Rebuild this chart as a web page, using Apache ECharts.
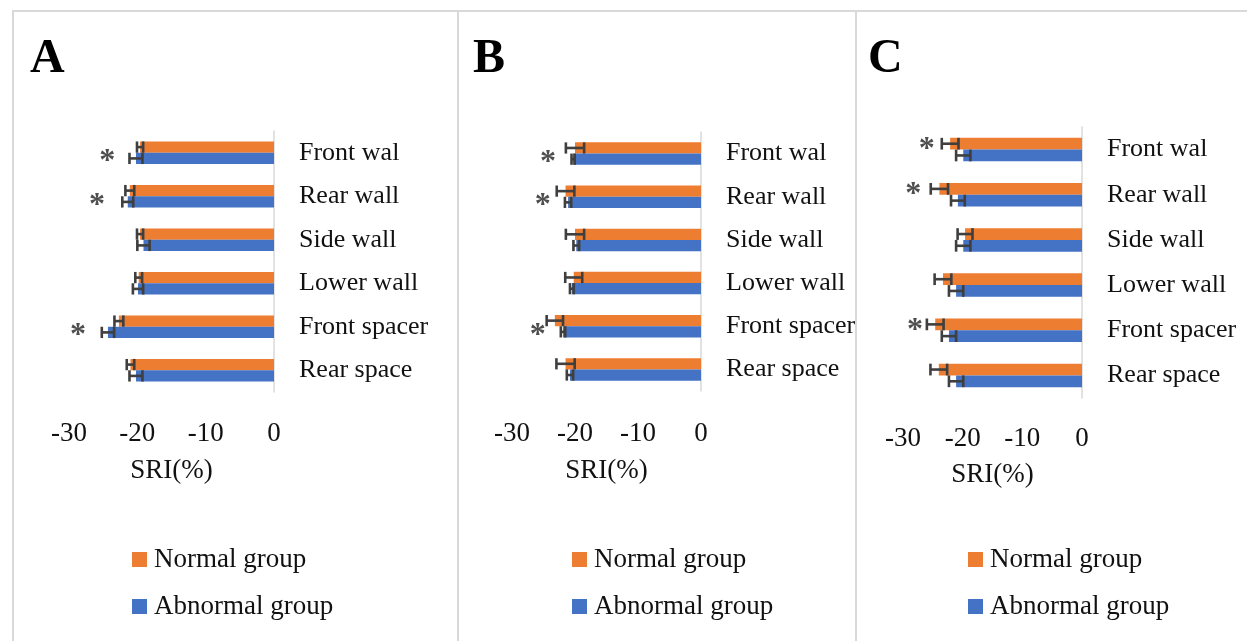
<!DOCTYPE html>
<html><head><meta charset="utf-8">
<script src="https://cdn.jsdelivr.net/npm/echarts@6/dist/echarts.min.js"></script>
<style>html,body{margin:0;padding:0;background:#fff}#c{width:1247px;height:641px}</style>
</head><body><div id="c"></div>
<script>
const categories = ['Front wal','Rear wall','Side wall','Lower wall','Front spacer','Rear space'];
const xTicks = [-30,-20,-10,0];
const seriesNames = ['Normal group','Abnormal group'];

const normalA = [-19.6,-21.1,-19.6,-19.8,-22.7,-21.0];
const normalErrA = [0.45,0.65,0.45,0.5,0.65,0.55];
const abnormalA = [-20.2,-21.4,-19.1,-19.9,-24.3,-20.2];
const abnormalErrA = [0.95,0.8,0.9,0.75,0.9,0.95];

const normalB = [-20.0,-21.5,-20.0,-20.2,-23.2,-21.5];
const normalErrB = [1.45,1.4,1.45,1.35,1.3,1.45];
const abnormalB = [-20.3,-21.1,-19.8,-20.5,-21.9,-20.8];
const abnormalErrB = [0.25,0.5,0.45,0.3,0.35,0.5];

const normalC = [-22.1,-23.9,-19.6,-23.3,-24.6,-24.0];
const normalErrC = [1.4,1.45,1.25,1.4,1.4,1.4];
const abnormalC = [-19.9,-20.8,-19.9,-21.1,-22.3,-21.1];
const abnormalErrC = [1.2,1.15,1.2,1.2,1.2,1.2];

const sigCatsA = ['Front wal','Rear wall','Front spacer'];
const sigXA = [-24.4,-25.9,-28.7];
const sigCatsB = ['Front wal','Rear wall','Front spacer'];
const sigXB = [-24.3,-25.1,-25.9];
const sigCatsC = ['Front wal','Rear wall','Front spacer'];
const sigXC = [-26.0,-28.3,-28.0];

const panelLetters = ['A','B','C'];
const ORANGE = '#ED7D31', BLUE = '#4472C4', ERR = '#3f3f3f';
const SERIF = '"Liberation Serif","Times New Roman",serif';
const GAP = 0.48;

const panels = [
  {grid:{left:69,width:205,top:131,height:261}, n:normalA, ne:normalErrA, a:abnormalA, ae:abnormalErrA, sc:sigCatsA, sx:sigXA, sigDy:9, legendLeft:127, letterLeft:30, tickMargin:28, nameGap:65},
  {grid:{left:512,width:189,top:132,height:259}, n:normalB, ne:normalErrB, a:abnormalB, ae:abnormalErrB, sc:sigCatsB, sx:sigXB, sigDy:9, legendLeft:567, letterLeft:473, tickMargin:29, nameGap:66},
  {grid:{left:903,width:179,top:127,height:271}, n:normalC, ne:normalErrC, a:abnormalC, ae:abnormalErrC, sc:sigCatsC, sx:sigXC, sigDy:0, legendLeft:963, letterLeft:868, tickMargin:27, nameGap:63}
];

function errRender(side){
  return function(params, api){
    const cat = api.value(0), lo = api.value(1), hi = api.value(2);
    const p1 = api.coord([lo, cat]);
    const p2 = api.coord([hi, cat]);
    const band = api.size([0, 1])[1];
    const bw = band * (1 - GAP) / 2;
    const y = p1[1] + side * bw / 2;
    const h = bw;
    const st = {stroke: ERR, lineWidth: 2.6};
    return {type:'group', children:[
      {type:'line', shape:{x1:p1[0], y1:y, x2:p2[0], y2:y}, style:st},
      {type:'line', shape:{x1:p1[0], y1:y-h/2, x2:p1[0], y2:y+h/2}, style:st},
      {type:'line', shape:{x1:p2[0], y1:y-h/2, x2:p2[0], y2:y+h/2}, style:st}
    ]};
  };
}

const grids=[], xAxes=[], yAxes=[], series=[], legends=[], titles=[];
panels.forEach((p, i) => {
  grids.push(p.grid);
  xAxes.push({type:'value', gridIndex:i, min:xTicks[0], max:xTicks[xTicks.length-1], interval:10,
    axisLine:{show:false}, axisTick:{show:false}, splitLine:{show:false},
    axisLabel:{fontFamily:SERIF, fontSize:27, color:'#111', margin:p.tickMargin},
    name:'SRI(%)', nameLocation:'middle', nameGap:p.nameGap,
    nameTextStyle:{fontFamily:SERIF, fontSize:27, color:'#111'}});
  yAxes.push({type:'category', gridIndex:i, data:categories, inverse:true, position:'right',
    axisLine:{show:true, lineStyle:{color:'#d9d9d9', width:1.5}}, axisTick:{show:false},
    axisLabel:{fontFamily:SERIF, fontSize:26, color:'#111', margin:25}});
  series.push({name:seriesNames[0], type:'bar', xAxisIndex:i, yAxisIndex:i, data:p.n,
    itemStyle:{color:ORANGE}, barGap:'0%', barCategoryGap:(GAP*100)+'%'});
  series.push({name:seriesNames[1], type:'bar', xAxisIndex:i, yAxisIndex:i, data:p.a,
    itemStyle:{color:BLUE}, barGap:'0%', barCategoryGap:(GAP*100)+'%'});
  series.push({type:'custom', xAxisIndex:i, yAxisIndex:i, renderItem:errRender(-1), z:5,
    encode:{y:0, x:[1,2]}, silent:true,
    data:p.n.map((v,k)=>[k, v-p.ne[k], v+p.ne[k]])});
  series.push({type:'custom', xAxisIndex:i, yAxisIndex:i, renderItem:errRender(1), z:5,
    encode:{y:0, x:[1,2]}, silent:true,
    data:p.a.map((v,k)=>[k, v-p.ae[k], v+p.ae[k]])});
  series.push({type:'scatter', xAxisIndex:i, yAxisIndex:i, symbolSize:2, silent:true, z:6,
    itemStyle:{color:'rgba(0,0,0,0)'},
    data:p.sx.map((v,k)=>[v, p.sc[k]]),
    label:{show:true, position:'inside', formatter:'*', fontFamily:SERIF, fontWeight:'bold', fontSize:32, color:'#222', offset:[0, p.sigDy]}});
  legends.push({orient:'vertical', left:p.legendLeft, top:541, icon:'rect', itemWidth:15, itemHeight:15,
    itemGap:20, data:seriesNames, textStyle:{fontFamily:SERIF, fontSize:27, color:'#111', padding:[0,0,0,2]}});
  titles.push({text:panelLetters[i], left:p.letterLeft, top:36, padding:0,
    textStyle:{fontFamily:SERIF, fontWeight:'bold', fontSize:48, color:'#000'}});
});

const chart = echarts.init(document.getElementById('c'), null, {renderer:'canvas'});
chart.setOption({
  animation:false, backgroundColor:'#fff',
  title:titles, grid:grids, xAxis:xAxes, yAxis:yAxes, series:series, legend:legends,
  graphic:[
    {type:'line', shape:{x1:12,y1:11,x2:1247,y2:11}, style:{stroke:'#d9d9d9', lineWidth:2}},
    {type:'line', shape:{x1:13,y1:11,x2:13,y2:641}, style:{stroke:'#d9d9d9', lineWidth:2}},
    {type:'line', shape:{x1:458,y1:11,x2:458,y2:641}, style:{stroke:'#d9d9d9', lineWidth:2}},
    {type:'line', shape:{x1:856,y1:11,x2:856,y2:641}, style:{stroke:'#d9d9d9', lineWidth:2}}
  ]
});
</script></body></html>
